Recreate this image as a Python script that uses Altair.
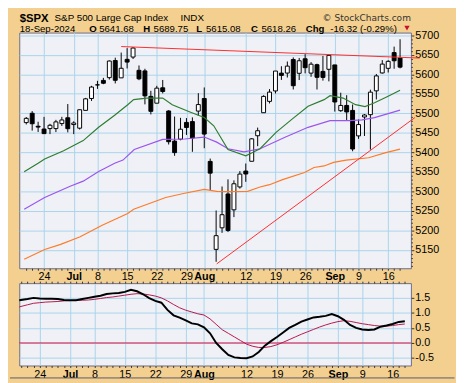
import altair as alt
import pandas as pd

# ---------------- data ----------------
dates = ["Jun 18", "Jun 20", "Jun 21", "Jun 24", "Jun 25", "Jun 26", "Jun 27", "Jun 28",
         "Jul 1", "Jul 2", "Jul 3", "Jul 5", "Jul 8", "Jul 9", "Jul 10", "Jul 11", "Jul 12",
         "Jul 15", "Jul 16", "Jul 17", "Jul 18", "Jul 19", "Jul 22", "Jul 23", "Jul 24", "Jul 25", "Jul 26",
         "Jul 29", "Jul 30", "Jul 31", "Aug 1", "Aug 2", "Aug 5", "Aug 6", "Aug 7", "Aug 8", "Aug 9",
         "Aug 12", "Aug 13", "Aug 14", "Aug 15", "Aug 16", "Aug 19", "Aug 20", "Aug 21", "Aug 22", "Aug 23",
         "Aug 26", "Aug 27", "Aug 28", "Aug 29", "Aug 30", "Sep 3", "Sep 4", "Sep 5", "Sep 6",
         "Sep 9", "Sep 10", "Sep 11", "Sep 12", "Sep 13", "Sep 16", "Sep 17", "Sep 18"]

opens = [5476.15, 5499.99, 5466.77, 5459.58, 5460.73, 5460.71, 5473.59, 5488.48,
         5471.08, 5461.84, 5507.44, 5537.91, 5572.75, 5584.24, 5591.26, 5635.21, 5590.76,
         5638.16, 5644.09, 5610.07, 5608.56, 5543.37, 5525.88, 5565.30, 5505.84, 5428.70, 5433.67,
         5476.55, 5478.73, 5505.59, 5537.84, 5376.63, 5151.14, 5206.42, 5293.13, 5252.57, 5311.21,
         5351.88, 5376.98, 5442.40, 5501.39, 5530.50, 5557.23, 5602.88, 5603.09, 5637.77, 5602.49,
         5639.66, 5602.89, 5624.51, 5607.30, 5612.74, 5623.89, 5506.68, 5520.08, 5507.33,
         5442.07, 5490.51, 5496.42, 5557.48, 5603.34, 5615.21, 5655.51, 5641.68]
highs = [5490.38, 5505.53, 5478.31, 5490.66, 5472.88, 5483.14, 5490.81, 5523.64,
         5479.55, 5509.69, 5539.27, 5570.33, 5583.11, 5590.75, 5635.39, 5642.45, 5655.56,
         5666.94, 5669.67, 5622.49, 5614.05, 5557.50, 5570.36, 5585.34, 5508.04, 5491.59, 5488.32,
         5487.74, 5489.46, 5551.51, 5566.16, 5383.89, 5250.89, 5312.34, 5330.64, 5328.03, 5351.82,
         5371.20, 5436.50, 5463.22, 5546.23, 5561.98, 5608.30, 5620.51, 5632.68, 5643.22, 5641.82,
         5651.62, 5631.18, 5627.03, 5646.95, 5651.37, 5623.89, 5552.74, 5546.30, 5522.47,
         5484.20, 5497.91, 5560.41, 5600.71, 5636.27, 5636.05, 5670.81, 5689.75]
lows = [5471.32, 5455.56, 5452.03, 5447.59, 5446.56, 5451.87, 5467.54, 5451.12,
        5446.53, 5458.43, 5507.42, 5531.63, 5562.51, 5574.57, 5586.44, 5576.53, 5590.44,
        5614.75, 5639.02, 5584.81, 5522.81, 5497.04, 5525.88, 5550.90, 5419.98, 5390.95, 5430.70,
        5444.44, 5401.26, 5493.75, 5410.42, 5302.03, 5119.26, 5193.56, 5195.54, 5233.85, 5306.97,
        5324.37, 5376.98, 5415.67, 5501.39, 5525.17, 5550.74, 5585.50, 5591.57, 5560.95, 5585.16,
        5602.34, 5593.48, 5560.95, 5583.71, 5581.79, 5504.33, 5503.63, 5480.21, 5402.62,
        5434.49, 5441.72, 5406.96, 5535.50, 5601.65, 5604.53, 5614.05, 5615.08]
closes = [5487.03, 5473.17, 5464.62, 5447.87, 5469.30, 5477.90, 5482.87, 5460.48,
          5475.09, 5509.01, 5537.02, 5567.19, 5572.85, 5576.98, 5633.91, 5584.54, 5615.35,
          5631.22, 5667.20, 5588.27, 5544.59, 5505.00, 5564.41, 5555.74, 5427.13, 5399.22, 5459.10,
          5463.54, 5436.44, 5522.30, 5446.68, 5346.56, 5186.33, 5240.03, 5199.50, 5319.31, 5344.16,
          5344.39, 5434.43, 5455.21, 5543.22, 5554.25, 5608.25, 5597.12, 5620.85, 5570.64, 5634.61,
          5616.84, 5625.80, 5592.18, 5591.96, 5648.40, 5528.93, 5520.07, 5503.41, 5408.42,
          5471.05, 5495.52, 5554.13, 5595.76, 5626.02, 5633.09, 5634.58, 5618.26]

# x-axis labels (trading-day index -> label)
tick_idx = [3, 8, 12, 17, 22, 27, 30, 37, 42, 47, 52, 56, 61]
tick_lab = ["24", "Jul", "8", "15", "22", "29", "Aug", "12", "19", "26", "Sep", "9", "16"]
month_idx = [8, 30, 52]

# moving averages (day index, value)
ma_fast_i = [-0.35, 2.0, 3.1, 6.3, 9.6, 12.2, 14.9, 17.1, 18.1, 20.3, 23.0, 24.6, 27.8, 30.0,
             31.6, 34.0, 37.0, 39.4, 42.1, 44.8, 47.5, 50.2, 51.2, 53.4, 55.5, 57.1, 58.7, 60.9, 63.0]
ma_fast_v = [5350, 5372, 5383, 5404, 5430, 5464, 5495, 5522, 5535, 5539, 5539, 5522, 5502, 5489,
             5468, 5407, 5391, 5409, 5451, 5485, 5518, 5535, 5545, 5539, 5522, 5517, 5527, 5543, 5559]
ma_mid_i = [-0.35, 3.1, 7.4, 9.6, 12.2, 14.9, 16.3, 18.2, 23.0, 26.7, 30.0, 32.1, 34.0, 36.7,
            39.4, 43.7, 47.5, 51.2, 54.5, 56.6, 58.7, 63.0]
ma_mid_v = [5254, 5284, 5313, 5326, 5351, 5372, 5380, 5407, 5433, 5434, 5439, 5426, 5409, 5401,
            5409, 5439, 5464, 5481, 5481, 5483, 5489, 5508]
ma_slow_i = [-0.35, 3.1, 5.8, 9.0, 12.8, 17.1, 18.1, 21.9, 23.5, 26.7, 30.0, 32.1, 34.0, 37.3,
             39.4, 41.0, 43.2, 46.9, 48.5, 50.2, 51.8, 53.9, 57.7, 60.6, 63.0]
ma_slow_v = [5126, 5151, 5164, 5183, 5213, 5243, 5254, 5275, 5284, 5295, 5305, 5300, 5299, 5300,
             5311, 5317, 5330, 5348, 5361, 5365, 5374, 5380, 5386, 5399, 5408]

# trend lines (day index, value)
resist_i = [16.0, 66.3]
resist_v = [5671, 5641.5]
support_i = [32.1, 65.5]
support_v = [5114, 5489]

# lower panel indicator
ind_i = [-0.35] + list(range(1, 64))
ppo_v = [1.42, 1.46, 1.50, 1.48, 1.47, 1.47, 1.46, 1.43, 1.42, 1.42,
         1.46, 1.50, 1.54, 1.57, 1.63, 1.65, 1.66, 1.70, 1.77, 1.72,
         1.62, 1.49, 1.40, 1.34, 1.10, 0.92, 0.84, 0.75, 0.65, 0.62,
         0.52, 0.32, 0.00, -0.21, -0.40, -0.48, -0.50, -0.51, -0.45, -0.30,
         -0.09, 0.06, 0.20, 0.35, 0.50, 0.60, 0.71, 0.78, 0.85, 0.87,
         0.90, 0.96, 0.89, 0.77, 0.60, 0.50, 0.45, 0.43, 0.45, 0.54,
         0.58, 0.63, 0.70, 0.72]
sig_v = [1.20, 1.27, 1.32, 1.34, 1.36, 1.37, 1.38, 1.40, 1.41, 1.42,
         1.42, 1.43, 1.45, 1.48, 1.51, 1.53, 1.56, 1.59, 1.62, 1.64,
         1.63, 1.60, 1.56, 1.50, 1.40, 1.28, 1.17, 1.09, 1.03, 0.97,
         0.93, 0.80, 0.62, 0.44, 0.32, 0.20, 0.08, -0.04, -0.11, -0.15,
         -0.15, -0.12, -0.06, 0.02, 0.11, 0.20, 0.29, 0.37, 0.45, 0.53,
         0.60, 0.66, 0.71, 0.74, 0.72, 0.68, 0.64, 0.61, 0.58, 0.56,
         0.56, 0.58, 0.61, 0.63]

symbol = "$SPX"
name = "S&P 500 Large Cap Index"
exchange = "INDX"
brand = "\u00a9 StockCharts.com"
date_label = "18-Sep-2024"

# ---------------- styles / layout ----------------
FONT = "Liberation Sans"
TAN = "#F3D08F"
PLOT_BG = "#EFF1F7"
BORDER = "#6B6B88"
GRID = "#A9D4EA"
GREEN = "#2F7D32"
PURPLE = "#9B55EE"
ORANGE = "#FF7B29"
TREND = "#FF2B2B"
SIGNAL = "#B5174B"
ZERO = "#E0103C"

PLOT_W = 399.5
MAIN_H = 240.4
LOW_H = 84
X_DOMAIN = [-0.35, 64.0]
Y_DOMAIN = [5102.8, 5706.8]
P_DOMAIN = [-0.75, 1.99]

label_expr = " : ".join(f"datum.value == {i} ? '{l}'" for i, l in zip(tick_idx, tick_lab)) + " : ''"
bold_test = " || ".join(f"datum.value == {i}" for i in month_idx)
grid_test = "indexof([" + ",".join(str(i) for i in tick_idx) + "], datum.value) >= 0"


def x_axis(pad):
    return alt.Axis(
        orient="bottom", values=list(range(64)), labelExpr=label_expr,
        labelFontWeight={"condition": {"test": bold_test, "value": "bold"}, "value": "normal"},
        labelFont=FONT, labelFontSize=11, labelColor="black", labelPadding=pad,
        labelOverlap=False, labelFlush=False, labelBound=False,
        tickSize=2, tickColor="#333333", tickWidth=1,
        grid=True, gridColor=GRID, gridWidth=1,
        gridOpacity={"condition": {"test": grid_test, "value": 1}, "value": 0},
        domain=False, title=None,
    )


top_ticks = alt.Axis(orient="top", values=list(range(64)), labels=False, tickSize=2,
                     tickColor="#333333", grid=False, domain=False, title=None)

xs = alt.Scale(domain=X_DOMAIN, nice=False, zero=False)
ys = alt.Scale(domain=Y_DOMAIN, nice=False, zero=False)
ps = alt.Scale(domain=P_DOMAIN, nice=False, zero=False)

major50 = "datum.value % 50 == 0"
y_axis = alt.Axis(
    orient="right", values=list(range(5110, 5701, 10)),
    labelExpr=f"{major50} ? '' + datum.value : ''",
    labelFont=FONT, labelFontSize=11, labelColor="black", labelPadding=1, labelOverlap=False,
    tickSize={"condition": {"test": major50, "value": 3}, "value": 1.5},
    tickColor="#333333",
    grid=True, gridColor=GRID,
    gridOpacity={"condition": {"test": major50, "value": 1}, "value": 0},
    domain=False, title=None,
)
p_axis = alt.Axis(
    orient="right", values=[-0.5, 0.0, 0.5, 1.0, 1.5],
    labelExpr="datum.value < 0 ? '-' + format(-datum.value, '.1f') : format(datum.value, '.1f')",
    labelFont=FONT, labelFontSize=11, labelColor="black", labelPadding=1, labelOverlap=False,
    tickSize=3, tickColor="#333333", grid=True, gridColor=GRID, domain=False, title=None,
)

XM = alt.X("i:Q", scale=xs, axis=x_axis(0))
XL = alt.X("i:Q", scale=xs, axis=x_axis(1))
XT = alt.X("i:Q", scale=xs, axis=top_ticks)


def YM(f):
    return alt.Y(f"{f}:Q", scale=ys, axis=y_axis)


def YP(f):
    return alt.Y(f"{f}:Q", scale=ps, axis=p_axis)


candles = pd.DataFrame({"i": list(range(len(dates))), "d": dates,
                        "o": opens, "h": highs, "l": lows, "c": closes})

wicks = alt.Chart(candles).mark_rule(color="black", strokeWidth=1).encode(x=XM, y=YM("l"), y2="h")
bodies = alt.Chart(candles).mark_bar(size=4, stroke="black", strokeWidth=1).encode(
    x=XM, y=YM("o"), y2="c",
    fill=alt.when(alt.datum.c > alt.datum.o).then(alt.value("white")).otherwise(alt.value("black")),
)


def line(i_list, v_list, color, width, clip=True):
    df = pd.DataFrame({"i": i_list, "v": v_list})
    return alt.Chart(df).mark_line(color=color, strokeWidth=width, clip=clip).encode(x=XM, y=YM("v"))


ma_fast = line(ma_fast_i, ma_fast_v, GREEN, 1.2)
ma_mid = line(ma_mid_i, ma_mid_v, PURPLE, 1.2)
ma_slow = line(ma_slow_i, ma_slow_v, ORANGE, 1.2)
resist = line(resist_i, resist_v, TREND, 1, clip=False)
support = line(support_i, support_v, TREND, 1, clip=False)

one = pd.DataFrame({"k": [0]})


def txt(s, x, y, size=9.8, weight="normal", font=FONT, align="left", color="black"):
    return alt.Chart(one).mark_text(
        text=s, align=align, baseline="alphabetic", font=font, fontSize=size,
        fontWeight=weight, color=color,
    ).encode(x=alt.value(x), y=alt.value(y))


o_, h_, l_, c_ = opens[-1], highs[-1], lows[-1], closes[-1]
chg = closes[-1] - closes[-2]
pct = chg / closes[-2] * 100

# header baselines, relative to the top of the price panel
L1 = -11.0
L2 = -0.3
header = [
    txt(symbol, 0.5, L1, size=11.5, weight="bold"),
    txt(name, 36.0, L1 - 1.0, size=10),
    txt(exchange, 164.5, L1 - 1.0, size=10),
    txt(brand, PLOT_W, L1 - 1.3, size=9.2, font="DejaVu Sans", align="right", color="#333333"),
    txt(date_label, 0.5, L2),
    txt("O", 71.5, L2, weight="bold"),
    txt(f"{o_:.2f}", 81.5, L2),
    txt("H", 126.5, L2, weight="bold"),
    txt(f"{h_:.2f}", 137, L2),
    txt("L", 180.5, L2, weight="bold"),
    txt(f"{l_:.2f}", 190.5, L2),
    txt("C", 236.5, L2, weight="bold"),
    txt(f"{c_:.2f}", 247, L2),
    txt("Chg", 292.2, L2, weight="bold"),
    txt(f"{chg:.2f} ({pct:.2f}%)", 317.2, L2),
    alt.Chart(one).mark_point(shape="triangle-down", filled=True, size=30, color="#C8102E", opacity=1)
    .encode(x=alt.value(395.5), y=alt.value(-4.6)),
]

main = alt.layer(wicks, bodies, ma_slow, ma_mid, ma_fast, resist, support, *header).properties(
    width=PLOT_W, height=MAIN_H,
    view=alt.ViewBackground(fill=PLOT_BG, stroke=BORDER, strokeWidth=1),
)

ind = pd.DataFrame({"i": ind_i, "ppo": ppo_v, "sig": sig_v})
zero_df = pd.DataFrame({"z": [0.0]})
zero_line = alt.Chart(zero_df).mark_rule(color=ZERO, strokeWidth=1).encode(y=YP("z"))
sig_line = alt.Chart(ind).mark_line(color=SIGNAL, strokeWidth=1).encode(x=XT, y=YP("sig"))
ppo_line = alt.Chart(ind).mark_line(color="black", strokeWidth=2).encode(x=XL, y=YP("ppo"))
# outer frame line along the bottom of the picture
frame = alt.Chart(one).mark_rule(color="#5A5A6A", strokeWidth=1, clip=False).encode(
    x=alt.value(-9.5), x2=alt.value(444), y=alt.value(96.7))

lower = alt.layer(zero_line, sig_line, ppo_line, frame).resolve_axis(x="independent").properties(
    width=PLOT_W, height=LOW_H,
    view=alt.ViewBackground(fill=PLOT_BG, stroke=BORDER, strokeWidth=1),
)

chart = alt.vconcat(main, lower, spacing=14.6, bounds="flush").properties(
    background=TAN,
    padding={"left": 0.5, "top": 0.3, "right": 0, "bottom": 0},
)

chart.save("out.html", embed_options={"renderer": "svg", "actions": False})
